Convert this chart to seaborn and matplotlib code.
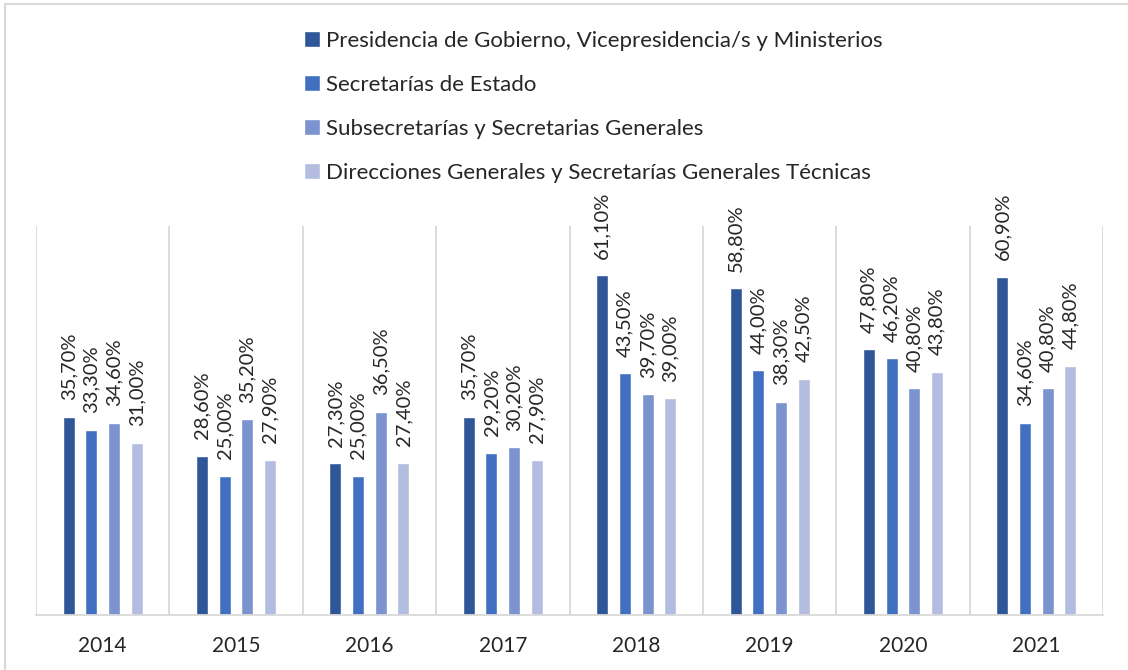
import pandas as pd
import numpy as np
import matplotlib
matplotlib.use("Agg")
import matplotlib.pyplot as plt
import seaborn as sns
from matplotlib.patches import Rectangle

# Data (percentages)
years = ["2014", "2015", "2016", "2017", "2018", "2019", "2020", "2021"]
series = [
    "Presidencia de Gobierno, Vicepresidencia/s y Ministerios",
    "Secretarías de Estado",
    "Subsecretarías y Secretarias Generales",
    "Direcciones Generales y Secretarías Generales Técnicas",
]
presidencia = [35.7, 28.6, 27.3, 35.7, 61.1, 58.8, 47.8, 60.9]
secretarias_estado = [33.3, 25.0, 25.0, 29.2, 43.5, 44.0, 46.2, 34.6]
subsecretarias = [34.6, 35.2, 36.5, 30.2, 39.7, 38.3, 40.8, 40.8]
direcciones = [31.0, 27.9, 27.4, 27.9, 39.0, 42.5, 43.8, 44.8]
colors = ["#30569A", "#4170C0", "#7B93CF", "#B2BDDF"]

values = [presidencia, secretarias_estado, subsecretarias, direcciones]
df = pd.DataFrame({
    "year": years * 4,
    "serie": np.repeat(series, len(years)),
    "value": np.concatenate(values),
})

sns.set_style("white")
plt.rcParams["font.family"] = ["Lato", "DejaVu Sans"]

fig = plt.figure(figsize=(11.28, 6.7), dpi=100)
ax = fig.add_axes([36 / 1128, 1 - 615 / 670, (1103 - 36) / 1128, (615 - 226) / 670])

sns.barplot(data=df, x="year", y="value", hue="serie", order=years,
            hue_order=series, palette=colors, width=0.68, ax=ax,
            legend=True, saturation=1)

# narrow the bars, keep centres (Excel style gaps)
bar_w = 0.09
for cont in ax.containers:
    for p in cont.patches:
        c = p.get_x() + p.get_width() / 2
        p.set_x(c - bar_w / 2)
        p.set_width(bar_w)

# rotated value labels
for cont, vals in zip(ax.containers, values):
    for p, v in zip(cont.patches, vals):
        x = p.get_x() + p.get_width() / 2
        ax.annotate(f"{v:.2f}%".replace(".", ","), (x, v), xytext=(0, 12),
                    textcoords="offset points", rotation=90, ha="center",
                    va="bottom", fontsize=14.5, color="#262626")

ax.set_ylim(0, 70)
ax.set_xlim(-0.5, len(years) - 0.5)
ax.set_yticks([])
ax.set_xlabel("")
ax.set_ylabel("")
ax.tick_params(axis="x", length=0, pad=15, labelsize=15, labelcolor="#262626")
ax.set_xticks(range(len(years)))
ax.set_xticklabels(years)

# category separators
for b in np.arange(-0.5, len(years), 1.0):
    ax.axvline(b, color="#D9D9D9", lw=1.3, zorder=0)

for s in ["top", "right", "left"]:
    ax.spines[s].set_visible(False)
ax.spines["bottom"].set_color("#D9D9D9")
ax.spines["bottom"].set_linewidth(1.3)

handles, labels = ax.get_legend_handles_labels()
ax.legend(handles, labels, loc="upper left", bbox_to_anchor=(304 / 1128, 1 - 31 / 670),
          bbox_transform=fig.transFigure, frameon=False, fontsize=16,
          borderpad=0, borderaxespad=0,
          handlelength=0.7, handleheight=0.7, handletextpad=0.3,
          labelspacing=1.08, labelcolor="#262626")

# outer chart border
fig.patches.append(Rectangle((5 / 1128, -0.1), 1.2, 1 - 4 / 670 + 0.1,
                             transform=fig.transFigure, fill=False,
                             edgecolor="#D9D9D9", lw=1.5))

fig.savefig("out.png", dpi=100)
